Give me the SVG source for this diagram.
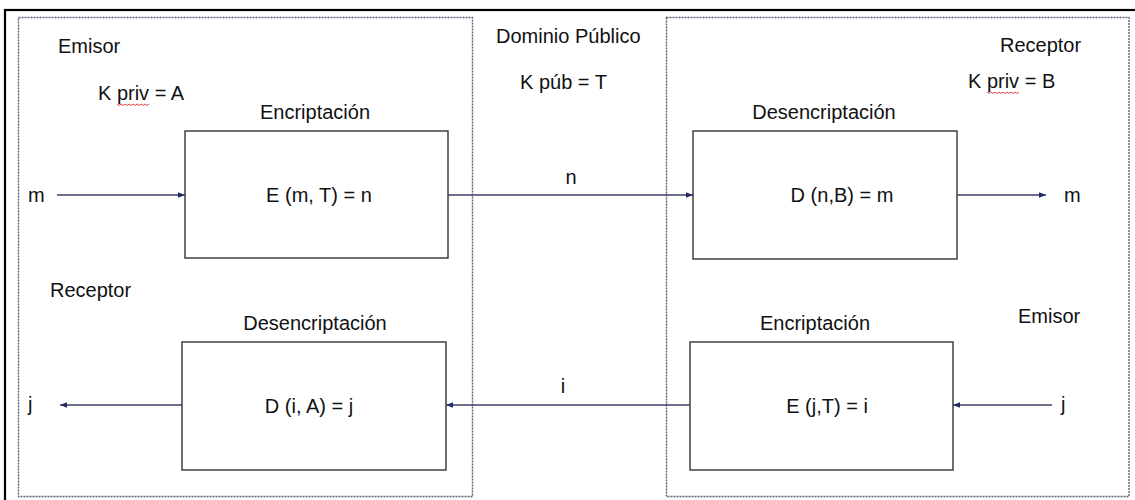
<svg xmlns="http://www.w3.org/2000/svg" width="1135" height="500" viewBox="0 0 1135 500">
<style>
  text { font-family: "Liberation Sans", Arial, sans-serif; font-size: 20px; fill: #111111; }
  .panel { fill: none; stroke: #5b6377; stroke-width: 1.4; stroke-dasharray: 2 1; }
  .box { fill: #ffffff; stroke: #333333; stroke-width: 1.4; }
  .conn { stroke: #3c4060; stroke-width: 1.4; fill: none; marker-end: url(#arr); }
  .squig { fill: none; stroke: #d83030; stroke-width: 0.9; }
  .mid { text-anchor: middle; }
</style>
<defs>
  <marker id="arr" markerUnits="userSpaceOnUse" markerWidth="8" markerHeight="8" refX="7" refY="4" orient="auto">
    <path d="M0,1.2 L7,4 L0,6.8 Z" fill="#1f2a66"/>
  </marker>
</defs>
<rect x="0" y="0" width="1135" height="500" fill="#ffffff"/>
<rect x="5" y="10" width="1145" height="500" fill="none" stroke="#000000" stroke-width="2.2"/>

<g id="panel-left">
  <rect class="panel" x="18.5" y="17.5" width="454" height="479"/>
  <text x="58" y="53">Emisor</text>
  <text x="98" y="100">K priv = A</text>
  <path class="squig" d="M117,104 l2,1.5 l2,-1.5 l2,1.5 l2,-1.5 l2,1.5 l2,-1.5 l2,1.5 l2,-1.5 l2,1.5 l2,-1.5 l2,1.5 l2,-1.5 l2,1.5 l2,-1.5 l2,1.5 l2,-1.5"/>
  <text x="50" y="297">Receptor</text>
</g>

<g id="panel-public">
  <text x="496" y="43">Dominio Público</text>
  <text x="520" y="89">K púb = T</text>
</g>

<g id="panel-right">
  <rect class="panel" x="666.5" y="17.5" width="462.5" height="479"/>
  <text x="1000" y="52">Receptor</text>
  <text x="968" y="88">K priv = B</text>
  <path class="squig" d="M987,92 l2,1.5 l2,-1.5 l2,1.5 l2,-1.5 l2,1.5 l2,-1.5 l2,1.5 l2,-1.5 l2,1.5 l2,-1.5 l2,1.5 l2,-1.5 l2,1.5 l2,-1.5 l2,1.5 l2,-1.5"/>
  <text x="1018" y="323">Emisor</text>
</g>

<g id="enc-top">
  <text class="mid" x="315" y="119">Encriptación</text>
  <rect class="box" x="185" y="131" width="263" height="127"/>
  <text class="mid" x="319" y="202">E (m, T) = n</text>
</g>

<g id="dec-top">
  <text class="mid" x="824" y="119">Desencriptación</text>
  <rect class="box" x="693" y="131" width="264" height="128"/>
  <text class="mid" x="842" y="202">D (n,B) = m</text>
</g>

<g id="dec-bottom">
  <text class="mid" x="315" y="330">Desencriptación</text>
  <rect class="box" x="182" y="342" width="264" height="128"/>
  <text class="mid" x="309" y="413">D (i, A) = j</text>
</g>

<g id="enc-bottom">
  <text class="mid" x="815" y="330">Encriptación</text>
  <rect class="box" x="690" y="342" width="263" height="128"/>
  <text class="mid" x="827" y="413">E (j,T) = i</text>
</g>

<g id="io-labels">
  <text x="28" y="202">m</text>
  <text x="1064" y="202">m</text>
  <text x="28" y="411">j</text>
  <text x="1061" y="411">j</text>
  <text class="mid" x="571" y="184">n</text>
  <text class="mid" x="563" y="393">i</text>
</g>

<g id="connectors">
  <line class="conn" x1="57" y1="195" x2="185" y2="195"/>
  <line class="conn" x1="448" y1="195" x2="693" y2="195"/>
  <line class="conn" x1="957" y1="195" x2="1046" y2="195"/>
  <line class="conn" x1="1052" y1="405" x2="953" y2="405"/>
  <line class="conn" x1="690" y1="405" x2="446" y2="405"/>
  <line class="conn" x1="182" y1="405" x2="60" y2="405"/>
</g>
</svg>
